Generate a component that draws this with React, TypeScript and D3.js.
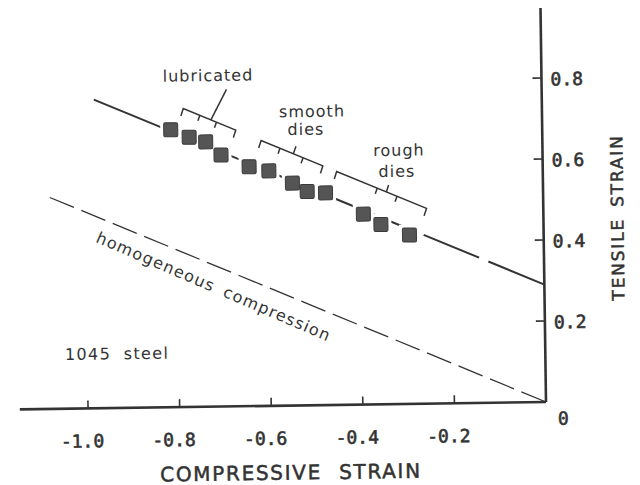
import * as d3 from 'd3';

// axis ticks
const xTicks = [-1.0, -0.8, -0.6, -0.4, -0.2];
const xTickLabels = ['-1.0', '-0.8', '-0.6', '-0.4', '-0.2'];
const yTicks = [0.2, 0.4, 0.6, 0.8];
const yTickLabels = ['0.2', '0.4', '0.6', '0.8'];

// measured fracture strains (compressive, tensile)
const testCompressive = [-0.811, -0.771, -0.735, -0.702, -0.641, -0.598, -0.547, -0.515, -0.475, -0.393, -0.355, -0.293];
const testTensile = [0.685, 0.666, 0.654, 0.621, 0.591, 0.580, 0.549, 0.528, 0.524, 0.470, 0.444, 0.417];

// fracture limit line (solid part, then dashed extrapolation)
const fractureSolidX = [-0.978, -0.29];
const fractureSolidY = [0.762, 0.43];
const fractureDashX = [-0.262, 0];
const fractureDashY = [0.417, 0.29];

// homogeneous compression line
const homogX = [-1.077, 0];
const homogY = [0.522, 0];

// bracket groups
const bracketFrom = [-0.783, -0.614, -0.45];
const bracketTo = [-0.669, -0.48, -0.255];
const bracketInner = [[-0.747, -0.711], [-0.573, -0.523], [-0.362, -0.319]];
const bracketLead = [-0.723, -0.544, -0.342];
const leadTopX = [-0.688, -0.538, -0.337];
const leadTopY = [0.783, 0.64, 0.541];

// annotation text
const labelText = ['lubricated', 'smooth', 'dies', 'rough', 'dies'];
const labelX = [-0.728, -0.502, -0.516, -0.3135, -0.3186];
const labelY = [0.804, 0.712, 0.668, 0.613, 0.561];

const W = 640;
const H = 485;
const ink = '#333';

export default function App() {
  const x = d3.scaleLinear().domain([-1, 0]).range([88, 546]);
  const y = d3.scaleLinear().domain([0, 0.8]).range([402, 78]);
  const x0 = x(0);
  const y0 = y(0);

  const fractureAt = d3.scaleLinear()
    .domain([fractureSolidX[0], fractureDashX[1]])
    .range([fractureSolidY[0], fractureDashY[1]]);
  const bracketOffset = 28;
  const bx = (v: number) => x(v);
  const by = (v: number) => y(fractureAt(v)) - bracketOffset;

  const line = d3.line<[number, number]>().x(d => x(d[0])).y(d => y(d[1]));
  const solidPts = fractureSolidX.map((v, i) => [v, fractureSolidY[i]] as [number, number]);
  const dashPts = fractureDashX.map((v, i) => [v, fractureDashY[i]] as [number, number]);
  const homogPts = homogX.map((v, i) => [v, homogY[i]] as [number, number]);

  const mono = "'DejaVu Sans Mono', monospace";
  const sans = "'DejaVu Sans', sans-serif";
  const size = 14;

  return (
    <svg width={W} height={H} style={{ position: 'absolute', left: 0, top: 0, background: '#fff' }}>
      <g transform={`rotate(-0.8 ${x0} ${y0})`}>
        {/* axes */}
        <line x1={x(-1.149)} y1={y0} x2={x0} y2={y0} stroke={ink} strokeWidth={2.6} />
        <line x1={x0} y1={y0} x2={x0} y2={y(0.973)} stroke={ink} strokeWidth={2.6} />
        {xTicks.map((t, i) => (
          <g key={'xt' + i}>
            <line x1={x(t)} x2={x(t)} y1={y0} y2={y0 - 8} stroke={ink} strokeWidth={1.6} />
            <text x={x(t) - 6} y={y0 + 39} textAnchor="middle" fontFamily={mono} fontSize={18}
              fill={ink} stroke={ink} strokeWidth={0.6}>{xTickLabels[i]}</text>
          </g>
        ))}
        {yTicks.map((t, i) => (
          <g key={'yt' + i}>
            <line x1={x0} x2={x0 - 9} y1={y(t)} y2={y(t)} stroke={ink} strokeWidth={1.6} />
            <text x={x0 + 9} y={y(t) + 1} dominantBaseline="central" fontFamily={mono} fontSize={18}
              fill={ink} stroke={ink} strokeWidth={0.6}>{yTickLabels[i]}</text>
          </g>
        ))}
        <text x={x0 + 17} y={y0 + 23} textAnchor="middle" fontFamily={mono} fontSize={18}
          fill={ink} stroke={ink} strokeWidth={0.6}>0</text>

        <text x={290} y={476} textAnchor="middle" fontFamily={sans} fontSize={20} letterSpacing={1.7}
          wordSpacing={9} fill={ink} stroke={ink} strokeWidth={0.5}>COMPRESSIVE STRAIN</text>
        <text transform="translate(626,218.5) rotate(-90)" textAnchor="middle" fontFamily={sans} fontSize={17}
          letterSpacing={1.8} wordSpacing={4} fill={ink} stroke={ink} strokeWidth={0.5}>TENSILE STRAIN</text>

        {/* homogeneous compression */}
        <path d={line(homogPts) || ''} fill="none" stroke={ink} strokeWidth={1.3} strokeDasharray="26,8" />
        <text transform={`translate(${x(-0.98)},${y(0.4114)}) rotate(24)`} fontFamily={sans} fontSize={16}
          letterSpacing={1.3} wordSpacing={4} fill={ink}>homogeneous compression</text>
        <text x={x(-1.049)} y={y(0.1202)} fontFamily={sans} fontSize={16} letterSpacing={1.4} wordSpacing={6}
          fill={ink}>1045 steel</text>

        {/* fracture line */}
        <path d={line(solidPts) || ''} fill="none" stroke={ink} strokeWidth={2} />
        <path d={line(dashPts) || ''} fill="none" stroke={ink} strokeWidth={2} strokeDasharray="60,10" />

        {/* markers */}
        {testCompressive.map((v, i) => (
          <rect key={'h' + i} x={x(v) - size / 2 - 3.5} y={y(testTensile[i]) - size / 2 - 3.5}
            width={size + 7} height={size + 7} fill="#fff" />
        ))}
        {testCompressive.map((v, i) => (
          <rect key={'m' + i} x={x(v) - size / 2} y={y(testTensile[i]) - size / 2}
            width={size} height={size} rx={1.5} fill="#555" stroke="#3a3a3a" strokeWidth={1} />
        ))}

        {/* brackets */}
        {bracketFrom.map((f, i) => {
          const t = bracketTo[i];
          const d = `M${bx(f) - 2.5},${by(f) + 7.5} L${bx(f)},${by(f)} L${bx(t)},${by(t)} L${bx(t) - 2.5},${by(t) + 7.5}`;
          return (
            <g key={'b' + i} fill="none" stroke={ink} strokeWidth={1.5}>
              <path d={d} />
              {bracketInner[i].map((v, j) => (
                <line key={j} x1={bx(v)} y1={by(v)} x2={bx(v) - 2} y2={by(v) + 5.5} />
              ))}
              <line x1={bx(bracketLead[i])} y1={by(bracketLead[i])} x2={x(leadTopX[i])} y2={y(leadTopY[i])} />
            </g>
          );
        })}
        {labelText.map((s, i) => (
          <text key={'l' + i} x={x(labelX[i])} y={y(labelY[i])} textAnchor="middle" fontFamily={sans}
            fontSize={16} letterSpacing={1} fill={ink}>{s}</text>
        ))}
      </g>
    </svg>
  );
}
